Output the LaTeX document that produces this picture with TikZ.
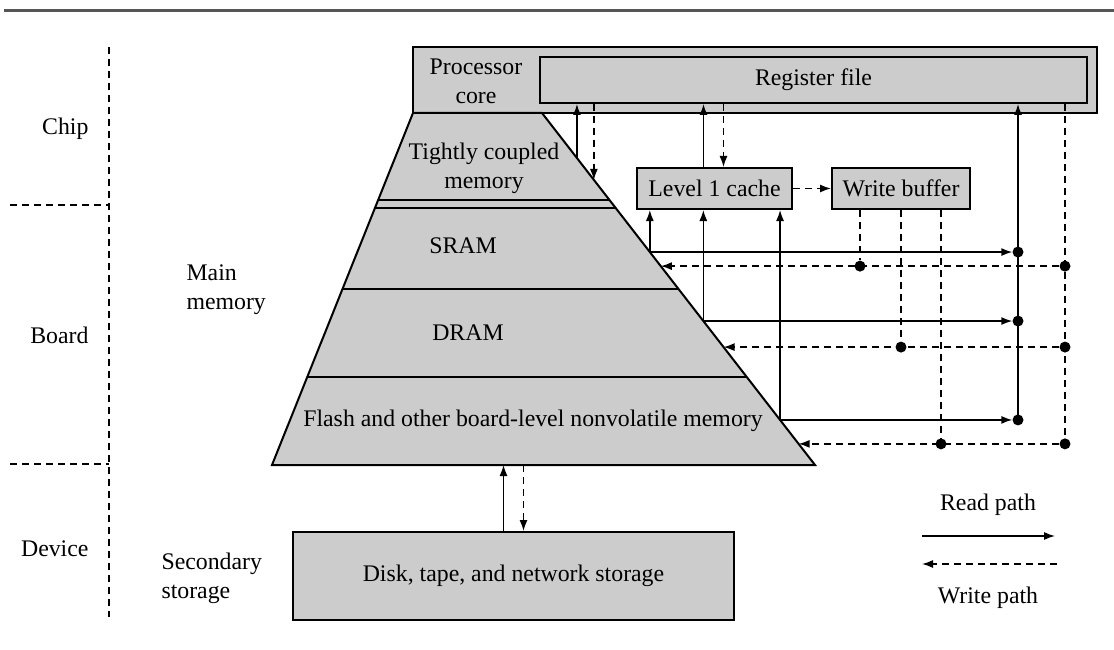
\documentclass[tikz,border=0pt]{standalone}
\usepackage{fontspec}
\setmainfont{Liberation Serif}
\usetikzlibrary{positioning, arrows.meta, calc}
\definecolor{memgray}{HTML}{CCCCCC}
\definecolor{rulegray}{HTML}{555555}
\tikzset{
  graybox/.style={draw, line width=2pt, fill=memgray, inner sep=0pt},
  rdline/.style={line width=1.4pt},
  wrline/.style={line width=1.4pt, dash pattern=on 7pt off 5pt},
  arrowtip/.style={-{Latex[length=11pt,width=8pt]}},
  rdp/.style={rdline, arrowtip},
  wrp/.style={wrline, arrowtip},
  lvl/.style={line width=1.6pt, dash pattern=on 7pt off 5pt},
  junction/.style={circle, fill=black, inner sep=0pt, minimum size=11pt}
}

\begin{document}
\begin{tikzpicture}[x=1pt, y=-1pt, font=\fontsize{23.8}{29}\selectfont]
  \useasboundingbox (0,0) rectangle (1114,650);
  \draw[rulegray, line width=3pt] (4,11) -- (1114,11);

  \draw[lvl] (109,47) -- (109,617);
  \foreach \y in {205,464} \draw[lvl] (10,\y) -- (109,\y);
  \node[anchor=east] (chip) at (92,129) {Chip};
  \node[anchor=east] (board) at (92,335) {Board};
  \node[anchor=east] (device) at (92,549) {Device};
  \node[anchor=west, align=left] (mainmem) at (183,290) {Main\\memory};
  \node[anchor=west, align=left] (secstore) at (158,578) {Secondary\\storage};

  \node[graybox, minimum width=684pt, minimum height=66pt] (core) at (755,80) {};
  \node[align=center] (corelbl) at (476,81) {Processor\\core};
  \node[graybox, minimum width=547pt, minimum height=46pt] (regfile) at (813.5,80) {Register file};

  \coordinate (pTL) at (413,113);
  \coordinate (pTR) at (542,113);
  \coordinate (pBR) at (815,465);
  \coordinate (pBL) at (272,465);
  \filldraw[fill=memgray, line width=2pt] (pTL) -- (pTR) -- (pBR) -- (pBL) -- cycle;
  \foreach \t in {0.247,0.271,0.5,0.75}
    \draw[line width=2pt] ($(pTL)!\t!(pBL)$) -- ($(pTR)!\t!(pBR)$);
  \node[align=center] (tcm) at (484,168) {Tightly coupled\\memory};
  \node (sram) at (463,246) {SRAM};
  \node (dram) at (468,333) {DRAM};
  \node (flash) at (533,421) {Flash and other board-level nonvolatile memory};
  \foreach \n/\t in {tcmR/0.128, tcmW/0.19, sramR/0.395, sramW/0.435,
                     dramR/0.591, dramW/0.665, flashR/0.872, flashW/0.94}
    \coordinate (\n) at ($(pTR)!\t!(pBR)$);

  \node[graybox, minimum width=155pt, minimum height=41pt] (lone) at (714.5,188.5) {Level 1 cache};
  \node[graybox, minimum width=138pt, minimum height=41pt] (wbuf) at (901,188.5) {Write buffer};
  \draw[wrp] (lone) -- (wbuf);

  \draw[rdp] (tcmR) -- (tcmR |- regfile.south);
  \draw[wrp] (tcmW |- regfile.south) -- (tcmW);
  \coordinate (lup) at ([xshift=-11pt]lone.north);
  \coordinate (ldn) at ([xshift=9pt]lone.north);
  \draw[rdp] (lup) -- (lup |- regfile.south);
  \draw[wrp] (ldn |- regfile.south) -- (ldn);

  \coordinate (rbus) at (1018,103);
  \coordinate (wbus) at (1065,103);
  \coordinate (wb1) at ([xshift=-41pt]wbuf.south);
  \coordinate (wb2) at (wbuf.south);
  \coordinate (wb3) at ([xshift=40pt]wbuf.south);
  \foreach \s/\i in {sram/1, dram/2, flash/3} {
    \node[junction] (rd\i) at (rbus |- \s R) {};
    \node[junction] (wd\i) at (wbus |- \s W) {};
    \node[junction] (bd\i) at (wb\i |- \s W) {};
    \draw[rdp] (\s R) -- (rd\i);
    \draw[rdp] (\s R) -- (\s R |- lone.south);
    \draw[wrp] (wd\i) -- (\s W);
    \draw[wrline] (wb\i) -- (bd\i);
  }
  \draw[rdp] (rd3.center) -- (rbus |- regfile.south);
  \draw[wrline] (wbus |- regfile.south) -- (wd3.center);

  \node[graybox, minimum width=441pt, minimum height=88pt] (disk) at (513.5,576) {Disk, tape, and network storage};
  \coordinate (dup) at ([xshift=-10pt]disk.north);
  \coordinate (ddn) at ([xshift=10pt]disk.north);
  \draw[rdp] (dup) -- (dup |- pBL);
  \draw[wrp] (ddn |- pBL) -- (ddn);

  \node (readlbl) at (988,505) {Read path};
  \coordinate (rdA) at (922,536);
  \coordinate (rdB) at (1055,536);
  \draw[rdp] (rdA) -- (rdB);
  \coordinate (wrA) at (1057,564);
  \coordinate (wrB) at (922,564);
  \draw[wrp] (wrA) -- (wrB);
  \node (writelbl) at (988,598) {Write path};
\end{tikzpicture}
\end{document}
